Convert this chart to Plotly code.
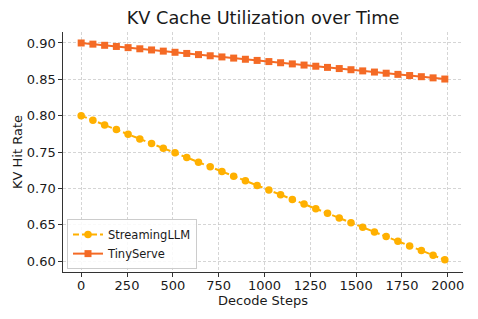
import plotly.graph_objects as go

decode_steps = [0, 64, 128, 192, 256, 320, 384, 448, 512, 576, 640, 704, 768, 832, 896, 960,
                1024, 1088, 1152, 1216, 1280, 1344, 1408, 1472, 1536, 1600, 1664, 1728, 1792, 1856, 1920, 1984]
streaming_llm = [0.8000, 0.7936, 0.7872, 0.7808, 0.7744, 0.7680, 0.7616, 0.7552, 0.7488, 0.7424,
                 0.7360, 0.7296, 0.7232, 0.7168, 0.7104, 0.7040, 0.6976, 0.6912, 0.6848, 0.6784,
                 0.6720, 0.6656, 0.6592, 0.6528, 0.6464, 0.6400, 0.6336, 0.6272, 0.6208, 0.6144,
                 0.6080, 0.6016]
tiny_serve = [0.9000, 0.8984, 0.8968, 0.8952, 0.8936, 0.8920, 0.8904, 0.8888, 0.8872, 0.8856,
              0.8840, 0.8824, 0.8808, 0.8792, 0.8776, 0.8760, 0.8744, 0.8728, 0.8712, 0.8696,
              0.8680, 0.8664, 0.8648, 0.8632, 0.8616, 0.8600, 0.8584, 0.8568, 0.8552, 0.8536,
              0.8520, 0.8504]
x_ticks = [0, 250, 500, 750, 1000, 1250, 1500, 1750, 2000]
y_ticks = [0.60, 0.65, 0.70, 0.75, 0.80, 0.85, 0.90]

FONT = "DejaVu Sans"
TXT = "#1a1a1a"

fig = go.Figure()
fig.add_trace(go.Scatter(
    x=decode_steps, y=streaming_llm, name="StreamingLLM", mode="lines+markers",
    line=dict(color="#FFB000", width=2, dash="6px,3px"),
    marker=dict(symbol="circle", size=7.5, color="#FFB000"),
))
fig.add_trace(go.Scatter(
    x=decode_steps, y=tiny_serve, name="TinyServe", mode="lines+markers",
    line=dict(color="#F46A25", width=2),
    marker=dict(symbol="square", size=7, color="#F46A25"),
))

grid = "rgba(195,195,195,0.7)"
H = 319
fig.update_layout(
    width=478, height=H,
    margin=dict(l=55, r=23, t=24, b=55),
    paper_bgcolor="white", plot_bgcolor="white",
    font=dict(family=FONT, size=13, color=TXT),
    title=dict(text="KV Cache Utilization over Time", x=0.5, xref="paper", xanchor="center",
               y=1 - 10 / H, yanchor="middle", font=dict(family=FONT, size=17.7, color=TXT)),
    showlegend=True,
    legend=dict(x=0.01, y=0.012, xanchor="left", yanchor="bottom",
                bgcolor="rgba(255,255,255,0.85)", bordercolor="#cccccc", borderwidth=1,
                font=dict(family=FONT, size=11.5, color=TXT), tracegroupgap=0,
                itemwidth=30),
    xaxis=dict(
        range=[-99.2, 2083.2], tickvals=x_ticks, ticktext=[str(v) for v in x_ticks],
        showgrid=True, gridcolor=grid, griddash="3px,2px", gridwidth=0.8,
        showline=True, linecolor="#333", linewidth=1.2, mirror=False,
        ticks="outside", ticklen=3.5, tickcolor="#333", zeroline=False, automargin=False,
        ticklabelstandoff=-2,
        title=dict(text="Decode Steps", font=dict(family=FONT, size=13, color=TXT), standoff=2),
        tickfont=dict(family=FONT, size=13, color=TXT),
    ),
    yaxis=dict(
        range=[0.5849, 0.9151], tickvals=y_ticks, ticktext=[f"{v:.2f}" for v in y_ticks],
        showgrid=True, gridcolor=grid, griddash="3px,2px", gridwidth=0.8,
        showline=True, linecolor="#333", linewidth=1.2, mirror=False,
        ticks="outside", ticklen=3.5, tickcolor="#333", zeroline=False, automargin=False,
        title=dict(text="KV Hit Rate", font=dict(family=FONT, size=13, color=TXT), standoff=1),
        tickfont=dict(family=FONT, size=13, color=TXT),
    ),
)

fig.write_html("out.html")
